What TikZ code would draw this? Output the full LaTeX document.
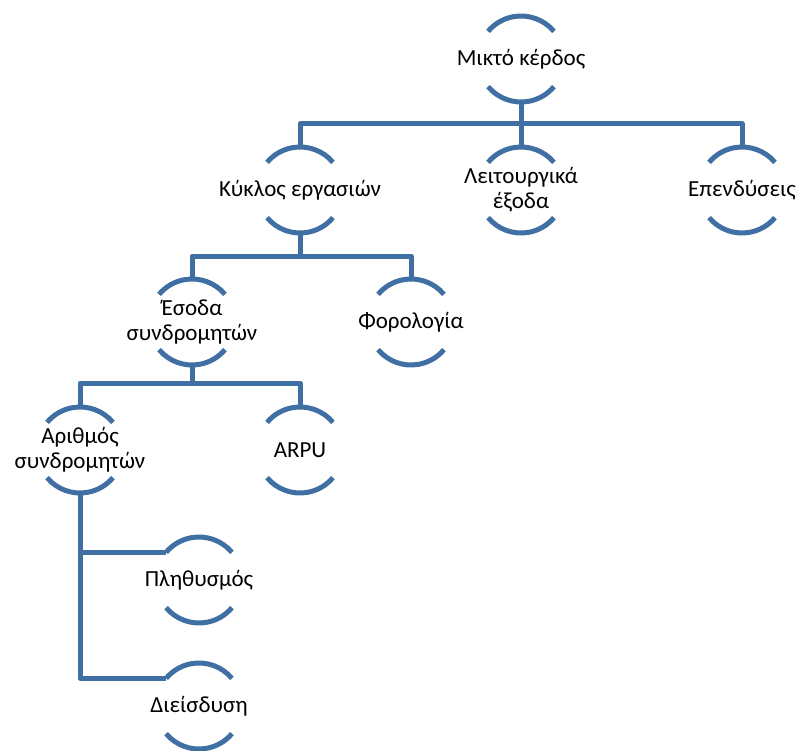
\documentclass[tikz,border=0pt]{standalone}
\usepackage{fontspec}
\setmainfont{Carlito}
\definecolor{ringblue}{RGB}{64,112,163}
\tikzset{
  x=1pt, y=1pt,
  lbl/.style={align=center, font=\fontsize{23}{25}\selectfont, inner sep=0pt, text=black},
  arcline/.style={draw=ringblue, line width=5pt},
  conn/.style={draw=ringblue, line width=5pt, line join=round}
}
\newcommand\ringarcs[1]{%
  \draw[arcline] ([shift={(40:43)}]#1.center) arc[start angle=40, end angle=140, radius=43]
     coordinate (#1-tl);
  \draw[arcline] ([shift={(220:43)}]#1.center) arc[start angle=220, end angle=320, radius=43];}
\begin{document}
\begin{tikzpicture}
\useasboundingbox (0,0) rectangle (802,-751);
% nodes
\node[lbl] (m)  at (521,-59)  {Μικτό κέρδος};
\node[lbl] (k)  at (300,-190) {Κύκλος εργασιών};
\node[lbl] (l)  at (521,-190) {Λειτουργικά\\έξοδα};
\node[lbl] (ep) at (742,-190) {Επενδύσεις};
\node[lbl] (es) at (192,-322) {Έσοδα\\συνδρομητών};
\node[lbl] (f)  at (411,-322) {Φορολογία};
\node[lbl] (a)  at (80,-450)  {Αριθμός\\συνδρομητών};
\node[lbl] (ar) at (300,-450) {ARPU};
\node[lbl] (p)  at (199,-580) {Πληθυσμός};
\node[lbl] (d)  at (199,-706) {Διείσδυση};
% arcs
\ringarcs{m}\ringarcs{k}\ringarcs{l}\ringarcs{ep}\ringarcs{es}\ringarcs{f}
\ringarcs{a}\ringarcs{ar}\ringarcs{p}\ringarcs{d}
% connectors
\coordinate (b1) at ([yshift=-65]m.center);
\draw[conn] ([yshift=-43]m.center) -- (b1);
\draw[conn] ([yshift=43]k.center) |- (b1) -| ([yshift=43]ep.center);
\draw[conn] (b1) -- ([yshift=43]l.center);
\coordinate (b2) at ([yshift=-66]k.center);
\draw[conn] ([yshift=-43]k.center) -- (b2);
\draw[conn] ([yshift=43]es.center) |- (b2) -| ([yshift=43]f.center);
\coordinate (b3) at ([yshift=-61]es.center);
\draw[conn] ([yshift=-43]es.center) -- (b3);
\draw[conn] ([yshift=43]a.center) |- (b3) -| ([yshift=43]ar.center);
\draw[conn] ([yshift=-43]a.center) |- (d-tl);
\draw[conn] (a.center |- p-tl) -- (p-tl);
\end{tikzpicture}
\end{document}
